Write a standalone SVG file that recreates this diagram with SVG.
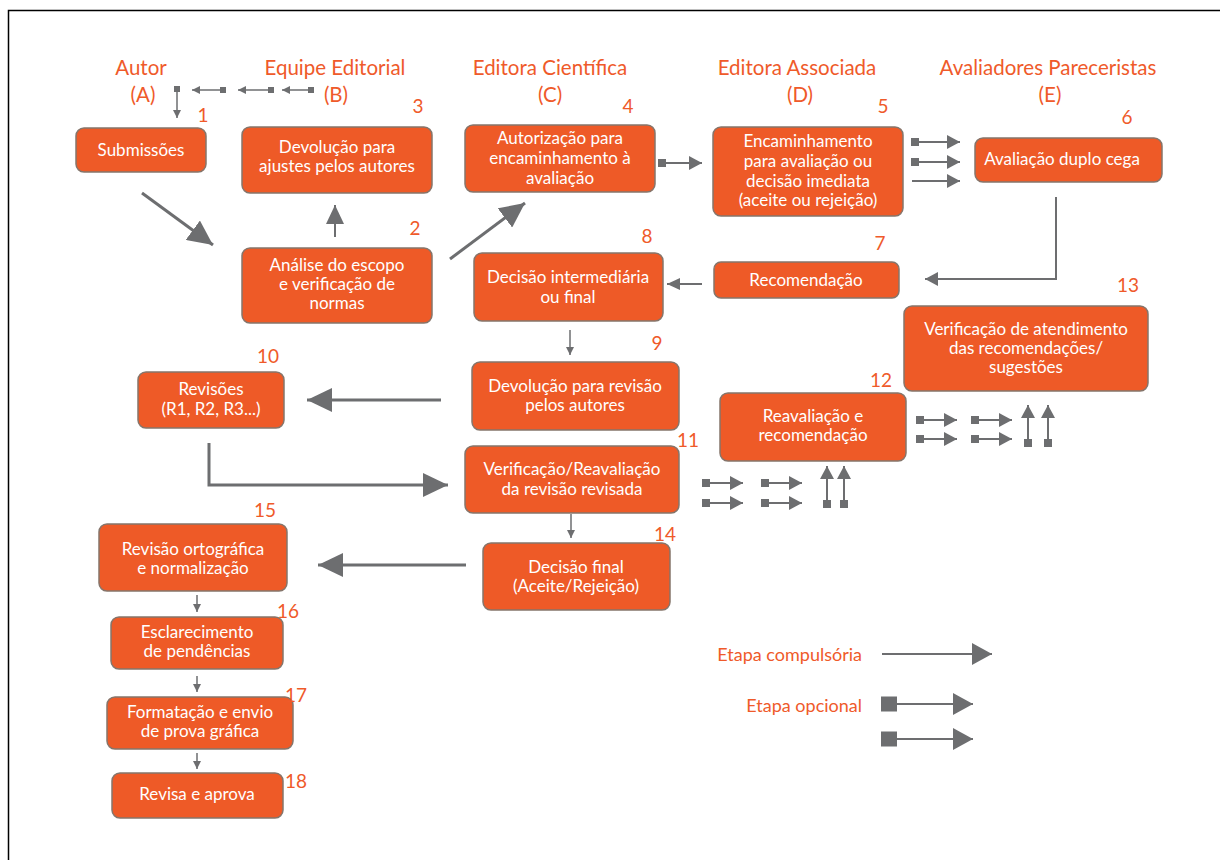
<svg xmlns="http://www.w3.org/2000/svg" width="1220" height="860" viewBox="0 0 1220 860">
<defs>
<style>
.box{fill:#EE5A27;stroke:#85756b;stroke-width:1.5}
.bt{font-family:Lato,"Open Sans","Liberation Sans",sans-serif;font-size:17px;fill:#ffffff;text-anchor:middle}
.hd{font-family:Lato,"Open Sans","Liberation Sans",sans-serif;font-size:20.5px;fill:#EF5A2A;text-anchor:middle}
.num{font-family:Lato,"Open Sans","Liberation Sans",sans-serif;font-size:19px;fill:#EF5A2A;text-anchor:middle}
.lg{font-family:Lato,"Open Sans","Liberation Sans",sans-serif;font-size:18px;fill:#EF5A2A;text-anchor:end}
.c3{fill:none;stroke:#6d6e70;stroke-width:3}
.c2{fill:none;stroke:#6d6e70;stroke-width:2}
.c1{fill:none;stroke:#6d6e70;stroke-width:1.5}
</style>
<marker id="big" markerUnits="userSpaceOnUse" markerWidth="26" markerHeight="24" refX="25" refY="12" orient="auto"><path d="M0,0 L25,12 L0,24 z" fill="#6d6e70"/></marker>
<marker id="med" markerUnits="userSpaceOnUse" markerWidth="20" markerHeight="20" refX="19" refY="10" orient="auto"><path d="M0,1 L19,10 L0,19 z" fill="#6d6e70"/></marker>
<marker id="sm" markerUnits="userSpaceOnUse" markerWidth="14" markerHeight="14" refX="13" refY="7" orient="auto"><path d="M0,1 L13,7 L0,13 z" fill="#6d6e70"/></marker>
<marker id="tiny" markerUnits="userSpaceOnUse" markerWidth="9" markerHeight="9" refX="8" refY="4.5" orient="auto"><path d="M0,0.5 L8,4.5 L0,8.5 z" fill="#6d6e70"/></marker>
<marker id="opt" markerUnits="userSpaceOnUse" markerWidth="14" markerHeight="14" refX="13" refY="7" orient="auto"><path d="M0,0 L13,7 L0,14 z" fill="#6d6e70"/></marker>
<marker id="sq" markerUnits="userSpaceOnUse" markerWidth="9" markerHeight="9" refX="1" refY="4.5" orient="auto"><rect x="0" y="0.5" width="8" height="8" fill="#6d6e70"/></marker>
<marker id="sqs" markerUnits="userSpaceOnUse" markerWidth="6" markerHeight="6" refX="1" refY="3" orient="auto"><rect x="0" y="0" width="6" height="6" fill="#6d6e70"/></marker>
<marker id="lgopt" markerUnits="userSpaceOnUse" markerWidth="21" markerHeight="22" refX="20" refY="11" orient="auto"><path d="M0,0 L20,11 L0,22 z" fill="#6d6e70"/></marker>
<marker id="lgsq" markerUnits="userSpaceOnUse" markerWidth="16" markerHeight="16" refX="1" refY="8" orient="auto"><rect x="0" y="0.5" width="16" height="15" fill="#6d6e70"/></marker>
</defs>
<rect x="0" y="0" width="1220" height="860" fill="#ffffff"/>
<rect x="8.5" y="10.5" width="1230" height="870" fill="none" stroke="#000000" stroke-width="1.5"/>

<g id="headers">
<text class="hd" x="141" y="75">Autor</text><text class="hd" x="143" y="102">(A)</text>
<text class="hd" x="335" y="75">Equipe Editorial</text><text class="hd" x="336" y="102">(B)</text>
<text class="hd" x="550" y="75">Editora Científica</text><text class="hd" x="550" y="102">(C)</text>
<text class="hd" x="797" y="75">Editora Associada</text><text class="hd" x="800" y="102">(D)</text>
<text class="hd" x="1048" y="75">Avaliadores Pareceristas</text><text class="hd" x="1050" y="102">(E)</text>
</g>

<g id="connectors">
<line class="c1" x1="313" y1="90" x2="282" y2="90" marker-start="url(#sqs)" marker-end="url(#tiny)"/>
<line class="c1" x1="273" y1="90" x2="238" y2="90" marker-start="url(#sqs)" marker-end="url(#tiny)"/>
<line class="c1" x1="225" y1="90" x2="192" y2="90" marker-start="url(#sqs)" marker-end="url(#tiny)"/>
<line class="c1" x1="177" y1="87" x2="177" y2="118" marker-start="url(#sqs)" marker-end="url(#tiny)"/>
<line class="c3" x1="142" y1="193" x2="213" y2="245" marker-end="url(#big)"/>
<line class="c2" x1="335" y1="237" x2="335" y2="205" marker-end="url(#med)"/>
<line class="c3" x1="450" y1="259" x2="525" y2="203" marker-end="url(#big)"/>
<line class="c2" x1="659" y1="163" x2="702" y2="163" marker-start="url(#sq)" marker-end="url(#opt)"/>
<line class="c2" x1="912" y1="142" x2="960" y2="142" marker-start="url(#sq)" marker-end="url(#opt)"/>
<line class="c2" x1="912" y1="162" x2="960" y2="162" marker-start="url(#sq)" marker-end="url(#opt)"/>
<line class="c2" x1="912" y1="181" x2="960" y2="181" marker-end="url(#opt)"/>
<polyline class="c2" points="1056,197 1056,279 925,279" marker-end="url(#opt)"/>
<line class="c2" x1="702" y1="284" x2="667" y2="284" marker-end="url(#sm)"/>
<line class="c1" x1="570" y1="330" x2="570" y2="355" marker-end="url(#tiny)"/>
<line class="c3" x1="441" y1="400" x2="307" y2="400" marker-end="url(#big)"/>
<polyline class="c3" points="209,443 209,485 448,485" marker-end="url(#big)"/>
<line class="c2" x1="703" y1="483" x2="743" y2="483" marker-start="url(#sq)" marker-end="url(#opt)"/>
<line class="c2" x1="703" y1="503" x2="743" y2="503" marker-start="url(#sq)" marker-end="url(#opt)"/>
<line class="c2" x1="762" y1="483" x2="802" y2="483" marker-start="url(#sq)" marker-end="url(#opt)"/>
<line class="c2" x1="762" y1="503" x2="802" y2="503" marker-start="url(#sq)" marker-end="url(#opt)"/>
<line class="c2" x1="827" y1="507" x2="827" y2="466" marker-start="url(#sq)" marker-end="url(#opt)"/>
<line class="c2" x1="844" y1="507" x2="844" y2="466" marker-start="url(#sq)" marker-end="url(#opt)"/>
<line class="c2" x1="917" y1="420" x2="957" y2="420" marker-start="url(#sq)" marker-end="url(#opt)"/>
<line class="c2" x1="917" y1="439" x2="957" y2="439" marker-start="url(#sq)" marker-end="url(#opt)"/>
<line class="c2" x1="972" y1="420" x2="1012" y2="420" marker-start="url(#sq)" marker-end="url(#opt)"/>
<line class="c2" x1="972" y1="439" x2="1012" y2="439" marker-start="url(#sq)" marker-end="url(#opt)"/>
<line class="c2" x1="1028" y1="446" x2="1028" y2="405" marker-start="url(#sq)" marker-end="url(#opt)"/>
<line class="c2" x1="1048" y1="446" x2="1048" y2="405" marker-start="url(#sq)" marker-end="url(#opt)"/>
<line class="c1" x1="571" y1="514" x2="571" y2="538" marker-end="url(#tiny)"/>
<line class="c3" x1="466" y1="565" x2="318" y2="565" marker-end="url(#big)"/>
<line class="c1" x1="197" y1="595" x2="197" y2="612" marker-end="url(#tiny)"/>
<line class="c1" x1="197" y1="676" x2="197" y2="692" marker-end="url(#tiny)"/>
<line class="c1" x1="197" y1="753" x2="197" y2="769" marker-end="url(#tiny)"/>
</g>

<g id="n1"><rect class="box" x="76" y="128" width="130" height="44" rx="8"/><text class="bt" x="141" y="156">Submissões</text><text class="num" x="203" y="122">1</text></g>
<g id="n2"><rect class="box" x="242" y="248" width="190" height="75" rx="8"/><text class="bt" x="337" y="271">Análise do escopo</text><text class="bt" x="337" y="290">e verificação de</text><text class="bt" x="337" y="309">normas</text><text class="num" x="415" y="235">2</text></g>
<g id="n3"><rect class="box" x="242" y="127" width="190" height="66" rx="8"/><text class="bt" x="337" y="153">Devolução para</text><text class="bt" x="337" y="172">ajustes pelos autores</text><text class="num" x="418" y="113">3</text></g>
<g id="n4"><rect class="box" x="465" y="125" width="190" height="67" rx="8"/><text class="bt" x="560" y="144">Autorização para</text><text class="bt" x="560" y="164">encaminhamento à</text><text class="bt" x="560" y="184">avaliação</text><text class="num" x="628" y="113">4</text></g>
<g id="n5"><rect class="box" x="713" y="127" width="190" height="89" rx="8"/><text class="bt" x="808" y="147">Encaminhamento</text><text class="bt" x="808" y="167">para avaliação ou</text><text class="bt" x="808" y="187">decisão imediata</text><text class="bt" x="808" y="206">(aceite ou rejeição)</text><text class="num" x="883" y="113">5</text></g>
<g id="n6"><rect class="box" x="975" y="138" width="187" height="44" rx="8"/><text class="bt" x="1062" y="165">Avaliação duplo cega</text><text class="num" x="1127" y="124">6</text></g>
<g id="n7"><rect class="box" x="714" y="262" width="185" height="36" rx="7"/><text class="bt" x="806" y="286">Recomendação</text><text class="num" x="880" y="250">7</text></g>
<g id="n8"><rect class="box" x="474" y="253" width="189" height="68" rx="8"/><text class="bt" x="568" y="283">Decisão intermediária</text><text class="bt" x="568" y="303">ou final</text><text class="num" x="647" y="243">8</text></g>
<g id="n9"><rect class="box" x="472" y="362" width="207" height="68" rx="8"/><text class="bt" x="575" y="392">Devolução para revisão</text><text class="bt" x="575" y="411">pelos autores</text><text class="num" x="657" y="350">9</text></g>
<g id="n10"><rect class="box" x="138" y="372" width="146" height="56" rx="8"/><text class="bt" x="211" y="395">Revisões</text><text class="bt" x="211" y="415">(R1, R2, R3...)</text><text class="num" x="268" y="363">10</text></g>
<g id="n11"><rect class="box" x="465" y="446" width="214" height="67" rx="8"/><text class="bt" x="572" y="475">Verificação/Reavaliação</text><text class="bt" x="572" y="495">da revisão revisada</text><text class="num" x="688" y="447">11</text></g>
<g id="n12"><rect class="box" x="720" y="393" width="186" height="68" rx="8"/><text class="bt" x="813" y="422">Reavaliação e</text><text class="bt" x="813" y="441">recomendação</text><text class="num" x="881" y="387">12</text></g>
<g id="n13"><rect class="box" x="904" y="306" width="244" height="85" rx="8"/><text class="bt" x="1026" y="335">Verificação de atendimento</text><text class="bt" x="1026" y="354">das recomendações/</text><text class="bt" x="1026" y="373">sugestões</text><text class="num" x="1128" y="292">13</text></g>
<g id="n14"><rect class="box" x="483" y="543" width="187" height="67" rx="8"/><text class="bt" x="576" y="573">Decisão final</text><text class="bt" x="576" y="592">(Aceite/Rejeição)</text><text class="num" x="665" y="541">14</text></g>
<g id="n15"><rect class="box" x="99" y="524" width="188" height="67" rx="8"/><text class="bt" x="193" y="555">Revisão ortográfica</text><text class="bt" x="193" y="574">e normalização</text><text class="num" x="265" y="517">15</text></g>
<g id="n16"><rect class="box" x="111" y="617" width="172" height="52" rx="8"/><text class="bt" x="197" y="638">Esclarecimento</text><text class="bt" x="197" y="657">de pendências</text><text class="num" x="288" y="618">16</text></g>
<g id="n17"><rect class="box" x="107" y="697" width="186" height="52" rx="8"/><text class="bt" x="200" y="718">Formatação e envio</text><text class="bt" x="200" y="737">de prova gráfica</text><text class="num" x="296" y="702">17</text></g>
<g id="n18"><rect class="box" x="112" y="773" width="171" height="45" rx="8"/><text class="bt" x="197" y="800">Revisa e aprova</text><text class="num" x="296" y="788">18</text></g>

<g id="legend">
<text class="lg" x="862" y="661">Etapa compulsória</text>
<line class="c2" x1="882" y1="654" x2="992" y2="654" marker-end="url(#lgopt)"/>
<text class="lg" x="862" y="712">Etapa opcional</text>
<line class="c2" x1="882" y1="704" x2="973" y2="704" marker-start="url(#lgsq)" marker-end="url(#lgopt)"/>
<line class="c2" x1="882" y1="739" x2="973" y2="739" marker-start="url(#lgsq)" marker-end="url(#lgopt)"/>
</g>
</svg>
